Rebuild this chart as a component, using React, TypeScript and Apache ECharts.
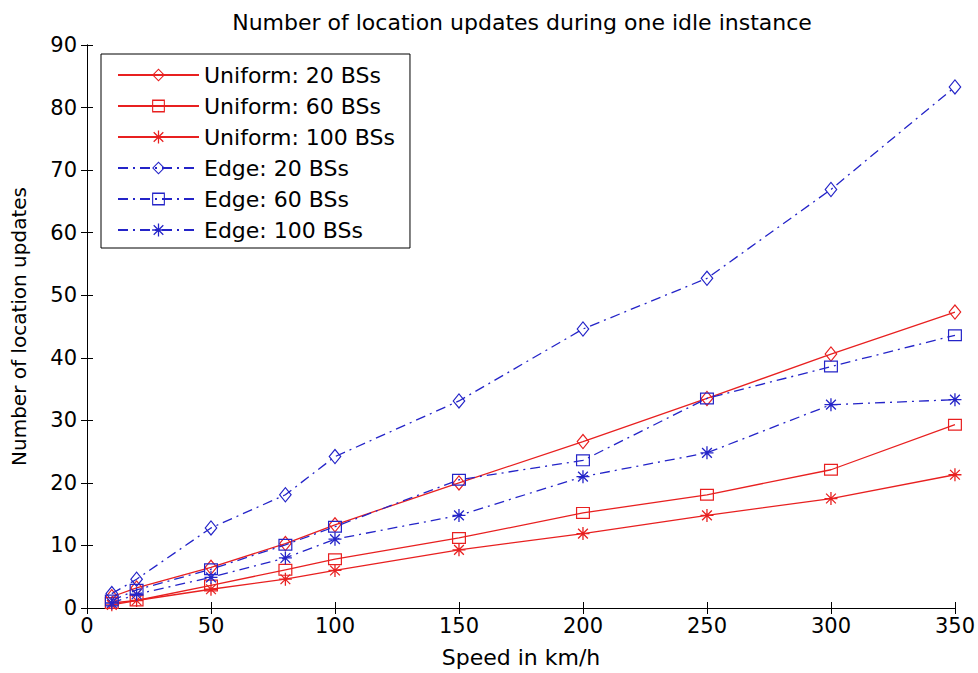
import React, { useEffect, useRef } from "react";
import * as echarts from "echarts";

const TITLE = "Number of location updates during one idle instance";
const X_NAME = "Speed in km/h";
const Y_NAME = "Number of location updates";

const speeds = [10, 20, 50, 80, 100, 150, 200, 250, 300, 350];
const uniform20 = [1.8, 3.2, 6.5, 10.3, 13.3, 20.0, 26.6, 33.5, 40.6, 47.3];
const uniform60 = [0.8, 1.2, 3.6, 6.1, 7.8, 11.2, 15.2, 18.1, 22.1, 29.3];
const uniform100 = [0.5, 1.2, 3.0, 4.6, 6.0, 9.3, 11.9, 14.8, 17.5, 21.3];
const edge20 = [2.3, 4.6, 12.8, 18.1, 24.2, 33.1, 44.6, 52.7, 66.9, 83.3];
const edge60 = [1.2, 2.9, 6.2, 10.1, 13.0, 20.5, 23.6, 33.5, 38.6, 43.6];
const edge100 = [0.8, 2.2, 4.9, 8.0, 11.0, 14.8, 21.0, 24.8, 32.5, 33.3];

const seriesNames = [
  "Uniform: 20 BSs",
  "Uniform: 60 BSs",
  "Uniform: 100 BSs",
  "Edge: 20 BSs",
  "Edge: 60 BSs",
  "Edge: 100 BSs",
];

const RED = "#e82020";
const BLUE = "#2424c8";
const FONT = "DejaVu Sans";

// hollow markers (outer path clockwise, inner path reversed -> hole)
const DIAMOND =
  "path://M6,0L12,8L6,16L0,8ZM6,1.85L1.38,8L6,14.15L10.62,8Z";
const SQUARE =
  "path://M0,0L14,0L14,12L0,12ZM1.2,1.2L1.2,10.8L12.8,10.8L12.8,1.2Z";
const ASTERISK =
  "path://M5.4,0L6.6,0L6.6,12L5.4,12ZM0,5.4L12,5.4L12,6.6L0,6.6Z" +
  "M1.92,1.08L10.92,10.08L10.08,10.92L1.08,1.92Z" +
  "M10.92,1.92L1.92,10.92L1.08,10.08L10.08,1.08Z";

export default function App() {
  const ref = useRef<HTMLDivElement>(null);

  useEffect(() => {
    if (!ref.current) return;
    const chart = echarts.init(ref.current, null, { renderer: "svg" });

    const values = [uniform20, uniform60, uniform100, edge20, edge60, edge100];
    const symbols = [DIAMOND, SQUARE, ASTERISK, DIAMOND, SQUARE, ASTERISK];
    const sizes: any[] = [[13, 16], [14, 12], [13, 13], [13, 16], [14, 12], [13, 13]];

    const series = values.map((vals, i) => {
      const isEdge = i >= 3;
      const color = isEdge ? BLUE : RED;
      return {
        name: seriesNames[i],
        type: "line",
        xAxisIndex: 0,
        yAxisIndex: 0,
        data: speeds.map((s, k) => [s, vals[k]]),
        symbol: symbols[i],
        symbolSize: sizes[i],
        symbolKeepAspect: false,
        showAllSymbol: true,
        color,
        itemStyle: { color },
        lineStyle: {
          color,
          width: 1.3,
          type: isEdge ? [10, 5, 2, 5] : "solid",
        },
        emphasis: { disabled: true },
        z: isEdge ? 3 : 2,
      };
    });

    const axisCommon = {
      axisLine: { show: true, lineStyle: { color: "#000", width: 1 } },
      axisTick: { show: true, inside: true, length: 6, lineStyle: { color: "#000" } },
      splitLine: { show: false },
    };

    chart.setOption({
      animation: false,
      backgroundColor: "#fff",
      title: {
        text: TITLE,
        left: 517,
        textAlign: "center",
        top: 6,
        textStyle: { fontFamily: FONT, fontSize: 22, fontWeight: "normal", color: "#000" },
      },
      grid: { left: 87, right: 23, top: 45, bottom: 63, containLabel: false },
      legend: {
        data: seriesNames,
        orient: "vertical",
        left: 101,
        top: 54,
        itemWidth: 81,
        itemHeight: 16,
        itemGap: 9,
        padding: [10, 15, 7, 16],
        borderColor: "#000",
        borderWidth: 1,
        backgroundColor: "#fff",
        textStyle: { fontFamily: FONT, fontSize: 22, color: "#000", lineHeight: 22 },
      },
      xAxis: [
        {
          type: "value",
          min: 0,
          max: 350,
          interval: 50,
          position: "bottom",
          name: X_NAME,
          nameLocation: "middle",
          nameGap: 38,
          nameTextStyle: { fontFamily: FONT, fontSize: 22, color: "#000" },
          axisLabel: { fontFamily: FONT, fontSize: 21, color: "#000", margin: 7 },
          ...axisCommon,
        },
        {
          type: "value",
          min: 0,
          max: 350,
          interval: 50,
          position: "top",
          axisLabel: { show: false },
          ...axisCommon,
        },
      ],
      yAxis: [
        {
          type: "value",
          min: 0,
          max: 90,
          interval: 10,
          position: "left",
          name: Y_NAME,
          nameLocation: "middle",
          nameGap: 58,
          nameTextStyle: { fontFamily: FONT, fontSize: 20, color: "#000" },
          axisLabel: { fontFamily: FONT, fontSize: 21, color: "#000", margin: 10 },
          ...axisCommon,
        },
        {
          type: "value",
          min: 0,
          max: 90,
          interval: 10,
          position: "right",
          axisLabel: { show: false },
          ...axisCommon,
        },
      ],
      series,
    });

    return () => chart.dispose();
  }, []);

  return (
    <div
      ref={ref}
      style={{ position: "absolute", left: 0, top: 0, width: 978, height: 673, background: "#fff" }}
    />
  );
}
